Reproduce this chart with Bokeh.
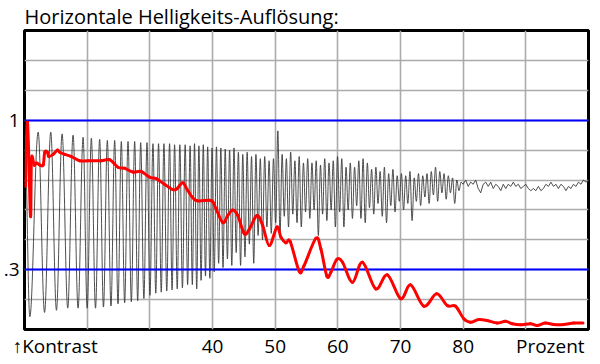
import numpy as np
from bokeh.plotting import figure
from bokeh.models import FixedTicker, Range1d
from bokeh.embed import file_html
from bokeh.resources import INLINE

# ---------------- data ----------------
TITLE = "Horizontale Helligkeits-Auflösung:"
x_ticks = [40, 50, 60, 70, 80]
y_ticks = [0.3, 1]
y_tick_labels = {0.3: ".3", 1: "1"}
x_start_label = "↑Kontrast"     # centred under about 14.9 %
x_start_pos = 14.9
x_end_label = "Prozent"         # centred under about 93.9 %
x_end_pos = 93.9
reference_levels = [0.3, 1.0]

# black scan signal: successive extremes (percent, level)
wave_a_x = [10.05, 10.85, 12.18, 13.2, 14.19, 15.1, 16.0, 16.9, 17.75, 18.55, 19.35, 20.0,
            20.67, 21.33, 21.99, 22.6, 23.22, 23.8, 24.39, 24.92, 25.45, 25.98, 26.52, 27.05,
            27.58, 28.06, 28.54, 29.05, 29.55, 30.02, 30.5, 30.95, 31.39, 31.82, 32.25, 32.7,
            33.15, 33.55, 33.95, 34.37, 34.79, 35.2, 35.64, 36.03, 36.43]
wave_a_y = [0.93, 0.08, 0.944, 0.10, 0.944, 0.11, 0.936, 0.12, 0.93, 0.12, 0.92, 0.12,
            0.915, 0.12, 0.91, 0.125, 0.905, 0.13, 0.905, 0.14, 0.90, 0.145, 0.90, 0.15,
            0.90, 0.155, 0.895, 0.165, 0.895, 0.18, 0.89, 0.19, 0.89, 0.195, 0.89, 0.20,
            0.89, 0.205, 0.885, 0.21, 0.885, 0.215, 0.885, 0.23, 0.88]
wave_b_x = [36.78, 37.13, 37.48, 37.83, 38.18, 38.53, 38.88, 39.23, 39.58, 39.93, 40.28, 40.63,
            40.98, 41.33, 41.68, 42.03, 42.38, 42.73, 43.08, 43.43, 43.78, 44.13, 44.48, 44.83,
            45.18, 45.53, 45.88, 46.23, 46.58, 46.93, 47.28, 47.63, 47.98, 48.33, 48.68, 49.03,
            49.38, 49.73, 50.08, 50.43]
wave_b_y = [0.23, 0.89, 0.21, 0.88, 0.25, 0.885, 0.27, 0.875, 0.26, 0.87, 0.29, 0.875,
            0.33, 0.87, 0.31, 0.865, 0.35, 0.86, 0.32, 0.87, 0.38, 0.85, 0.32, 0.84,
            0.36, 0.85, 0.42, 0.83, 0.33, 0.84, 0.46, 0.82, 0.44, 0.83, 0.50, 0.81,
            0.47, 0.82, 0.52, 0.95]
wave_c_x = [50.77, 51.11, 51.45, 51.79, 52.13, 52.47, 52.81, 53.15, 53.49, 53.83, 54.17, 54.51,
            54.85, 55.19, 55.53, 55.87, 56.21, 56.55, 56.89, 57.23, 57.57, 57.91, 58.25, 58.59,
            58.93, 59.27, 59.61, 59.95, 60.29, 60.63, 60.97, 61.31, 61.65, 61.99, 62.33, 62.67,
            63.01, 63.35, 63.69, 64.03, 64.37, 64.71, 65.05, 65.39, 65.73, 66.07, 66.41, 66.75,
            67.09, 67.43, 67.77, 68.11, 68.45, 68.79, 69.13, 69.47, 69.81, 70.15, 70.49, 70.83,
            71.17, 71.51, 71.85, 72.19, 72.53, 72.87, 73.21, 73.55, 73.89, 74.23, 74.57, 74.91,
            75.25, 75.59, 75.93, 76.27, 76.61, 76.95, 77.29, 77.63, 77.97, 78.31, 78.65, 78.99,
            79.33, 79.67]
wave_c_y = [0.46, 0.84, 0.55, 0.82, 0.50, 0.85, 0.56, 0.81, 0.52, 0.83, 0.50, 0.80,
            0.57, 0.82, 0.54, 0.80, 0.58, 0.81, 0.46, 0.79, 0.56, 0.82, 0.53, 0.80,
            0.58, 0.81, 0.50, 0.83, 0.57, 0.82, 0.50, 0.78, 0.58, 0.80, 0.54, 0.78,
            0.60, 0.81, 0.54, 0.82, 0.52, 0.80, 0.59, 0.77, 0.56, 0.78, 0.61, 0.76,
            0.55, 0.78, 0.52, 0.75, 0.60, 0.77, 0.57, 0.74, 0.62, 0.75, 0.58, 0.74,
            0.61, 0.76, 0.53, 0.73, 0.62, 0.75, 0.60, 0.74, 0.64, 0.75, 0.61, 0.76,
            0.65, 0.78, 0.62, 0.76, 0.66, 0.75, 0.63, 0.74, 0.66, 0.73, 0.61, 0.72,
            0.67, 0.71]
# residual noise at the high end
tail_x = [80.0, 80.4, 80.8, 81.2, 81.6, 82.0, 82.4, 82.8, 83.2, 83.6, 84.0, 84.4, 84.8,
          85.2, 85.6, 86.0, 86.4, 86.8, 87.2, 87.6, 88.0, 88.4, 88.8, 89.2, 89.6, 90.0,
          90.4, 90.8, 91.2, 91.6, 92.0, 92.4, 92.8, 93.2, 93.6, 94.0, 94.4, 94.8, 95.2,
          95.6, 96.0, 96.4, 96.8, 97.2, 97.6, 98.0, 98.4, 98.8, 99.2, 99.6, 100.0]
tail_y = [0.70, 0.72, 0.69, 0.71, 0.70, 0.72, 0.68, 0.66, 0.70, 0.71, 0.69, 0.71, 0.68,
          0.70, 0.69, 0.67, 0.70, 0.68, 0.70, 0.69, 0.71, 0.69, 0.70, 0.68, 0.69, 0.70,
          0.68, 0.67, 0.68, 0.67, 0.69, 0.67, 0.68, 0.70, 0.69, 0.71, 0.69, 0.70, 0.68,
          0.70, 0.69, 0.67, 0.69, 0.68, 0.70, 0.69, 0.71, 0.70, 0.72, 0.71, 0.72]

# red contrast curve
red_x = [10.16, 10.48, 10.96, 11.11, 11.54, 11.91, 12.44, 12.98, 13.23, 13.66,
         13.87, 14.57, 15.25, 15.62, 16.42, 17.48, 18.80, 20.14, 22.26, 23.58,
         24.92, 25.97, 27.31, 28.63, 29.95, 31.02, 32.34, 33.68, 34.36, 35.27,
         36.07, 37.39, 39.78, 40.57, 41.64, 42.44, 43.23, 44.03, 45.08, 45.88,
         47.10, 48.01, 49.06, 50.29, 50.92, 51.72, 52.41, 53.84, 54.63, 56.50,
         57.29, 58.25, 58.89, 59.84, 60.75, 62.34, 63.93, 66.05, 67.91, 70.03,
         71.62, 73.74, 75.76, 77.47, 78.79, 80.11, 81.18, 82.50, 83.84, 85.43,
         86.75, 87.82, 89.14, 90.73, 91.80, 93.12, 94.44, 96.03, 97.63, 99.12]
red_y = [0.69, 0.99, 0.55, 0.82, 0.79, 0.80, 0.79, 0.79, 0.85, 0.85,
         0.83, 0.84, 0.86, 0.85, 0.84, 0.83, 0.81, 0.81, 0.81, 0.815,
         0.78, 0.775, 0.757, 0.76, 0.733, 0.726, 0.70, 0.675, 0.68, 0.707,
         0.67, 0.624, 0.624, 0.585, 0.52, 0.554, 0.58, 0.554, 0.468, 0.49,
         0.554, 0.507, 0.413, 0.50, 0.452, 0.426, 0.432, 0.292, 0.32, 0.447,
         0.398, 0.27, 0.288, 0.348, 0.335, 0.241, 0.335, 0.21, 0.276, 0.164,
         0.229, 0.129, 0.187, 0.132, 0.129, 0.07, 0.054, 0.067, 0.062, 0.05,
         0.059, 0.047, 0.042, 0.047, 0.039, 0.05, 0.043, 0.043, 0.05, 0.05]

# ---------------- drawing helpers ----------------
def extremes_bezier(xs, ys):
    """Cubic segments between successive extremes with flat tangents (sine-like)."""
    xs = np.asarray(xs, float); ys = np.asarray(ys, float)
    x0, x1, y0, y1 = xs[:-1], xs[1:], ys[:-1], ys[1:]
    d = x1 - x0
    return dict(x0=x0, y0=y0, x1=x1, y1=y1,
                cx0=x0 + 0.3642 * d, cy0=y0, cx1=x1 - 0.3642 * d, cy1=y1)


def smooth_bezier(xs, ys):
    """Catmull-Rom style smoothing through the given points."""
    P = np.column_stack([xs, ys]).astype(float)
    n = len(P)
    out = {k: [] for k in ("x0", "y0", "x1", "y1", "cx0", "cy0", "cx1", "cy1")}
    for i in range(n - 1):
        p0 = P[max(i - 1, 0)]; p1 = P[i]; p2 = P[i + 1]; p3 = P[min(i + 2, n - 1)]
        c0 = p1 + (p2 - p0) / 6.0
        c1 = p2 - (p3 - p1) / 6.0
        out["x0"].append(p1[0]); out["y0"].append(p1[1])
        out["x1"].append(p2[0]); out["y1"].append(p2[1])
        out["cx0"].append(c0[0]); out["cy0"].append(c0[1])
        out["cx1"].append(c1[0]); out["cy1"].append(c1[1])
    return out


FONT = "Open Sans"

p = figure(width=600, height=364, x_range=Range1d(10, 100), y_range=Range1d(0.02, 1.42),
           title=TITLE, output_backend="svg", toolbar_location=None,
           min_border_left=23, min_border_right=12, min_border_top=30, min_border_bottom=35)
p.background_fill_color = "white"
p.border_fill_color = "white"
p.outline_line_color = "black"
p.outline_line_width = 3

p.title.text_font = FONT
p.title.text_font_size = "20px"
p.title.text_font_style = "normal"
p.title.text_color = "black"
p.title.align = "left"
p.title.standoff = 1
p.title.offset = 0

# grid
p.xgrid.ticker = FixedTicker(ticks=[20, 30, 40, 50, 60, 70, 80, 90])
p.ygrid.ticker = FixedTicker(ticks=[0.16, 0.30, 0.44, 0.58, 0.72, 0.86, 1.00, 1.14, 1.28])
for g in (p.xgrid[0], p.ygrid[0]):
    g.grid_line_color = "#ababab"
    g.grid_line_width = 1.6

# axes
p.xaxis.ticker = FixedTicker(ticks=[x_start_pos] + x_ticks + [x_end_pos])
p.xaxis.major_label_overrides = {x_start_pos: x_start_label, x_end_pos: x_end_label}
p.yaxis.ticker = FixedTicker(ticks=y_ticks)
p.yaxis.major_label_overrides = y_tick_labels
for ax in (p.xaxis[0], p.yaxis[0]):
    ax.axis_line_color = None
    ax.major_tick_line_color = None
    ax.minor_tick_line_color = None
    ax.major_tick_out = 0
    ax.major_tick_in = 0
    ax.major_label_text_font = FONT
    ax.major_label_text_font_size = "19px"
    ax.major_label_text_color = "black"
p.xaxis.major_label_standoff = 3
p.yaxis.major_label_standoff = 5

# black scan signal
all_x = wave_a_x + wave_b_x + wave_c_x
all_y = wave_a_y + wave_b_y + wave_c_y
p.bezier(**extremes_bezier(all_x, all_y), line_color="#3a3a3a", line_width=0.9)
p.line([all_x[-1]] + tail_x, [all_y[-1]] + tail_y, line_color="#3a3a3a", line_width=0.9)

# blue reference levels
p.hspan(y=reference_levels, line_color="#0000ff", line_width=2)

# red contrast curve
p.bezier(**smooth_bezier(red_x, red_y), line_color="#ff0000", line_width=3, line_cap="round")

open("out.html", "w").write(file_html(p, INLINE))
